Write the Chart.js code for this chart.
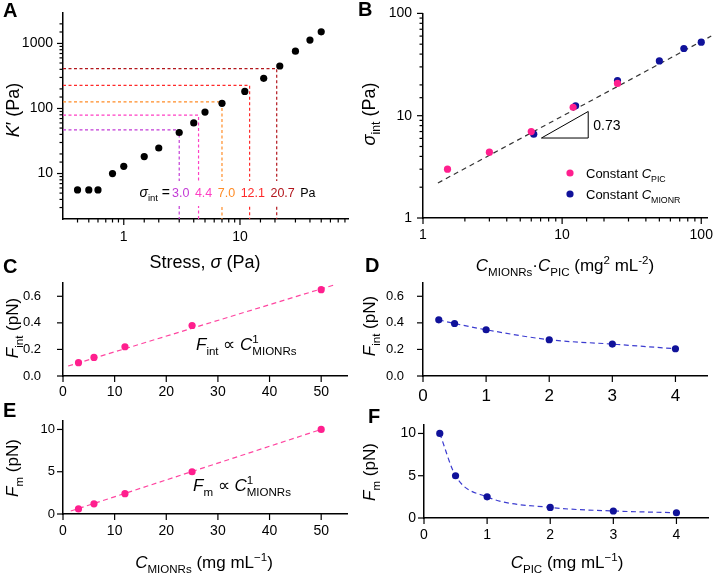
<!DOCTYPE html>
<html>
<head>
<meta charset="utf-8">
<script src="https://cdn.jsdelivr.net/npm/chart.js@4.4.0/dist/chart.umd.min.js"></script>
<style>
  body { margin: 0; background: #fff; }
  #wrap { position: relative; width: 715px; height: 575px; }
  canvas { position: absolute; left: 0; top: 0; }
</style>
</head>
<body>
<div id="wrap">
  <canvas id="pA" width="715" height="575"></canvas>
  <canvas id="pB" width="715" height="575"></canvas>
  <canvas id="pC" width="715" height="575"></canvas>
  <canvas id="pD" width="715" height="575"></canvas>
  <canvas id="pE" width="715" height="575"></canvas>
  <canvas id="pF" width="715" height="575"></canvas>
</div>
<script>
// ---- data ----
// A: K' vs stress
const stressA = [0.4, 0.5, 0.6, 0.8, 1, 1.5, 2, 3, 4, 5, 7, 11, 16, 22, 30, 40, 50];
const modulusA = [5.6, 5.6, 5.6, 10, 12.9, 18.2, 24.7, 42.7, 60, 88, 120, 183, 291, 450, 760, 1125, 1510];
const sigmaInt = [3.0, 4.4, 7.0, 12.1, 20.7];
const sigmaK = [47, 79, 126, 226, 411];

// B: sigma_int vs C_MIONRs*C_PIC
const productPIC = [1.5, 3, 6, 12, 25];
const sigmaPIC = [3.0, 4.4, 7.0, 12.1, 20.7];
const productMIONR = [6.25, 12.5, 25, 50, 75, 100];
const sigmaMIONR = [6.6, 12.5, 22, 34.3, 45.4, 52.3];
const fitBx = [1.28, 118];
const fitBy = [2.2, 60];
const triX = [7.1, 15.4, 15.4, 7.1];
const triY = [6.05, 6.05, 11.0, 6.05];

// C / E: forces vs C_MIONRs
const cMionrs = [3, 6, 12, 25, 50];
const fIntC = [0.1, 0.14, 0.22, 0.38, 0.65];
const fitCx = [1, 52.5];
const fitCy = [0.075, 0.685];
const fmE = [0.6, 1.2, 2.4, 5.0, 10.0];
const fitEx = [1.5, 50];
const fitEy = [0.35, 10];

// D / F: forces vs C_PIC
const cPic = [0.25, 0.5, 1, 2, 3, 4];
const fIntD = [0.423, 0.395, 0.348, 0.273, 0.24, 0.205];
const fmF = [10, 5, 2.5, 1.25, 0.83, 0.62];

// ---- styles ----
const FONT = '"Liberation Sans", Arial, sans-serif';
const W = 715, H = 575, YW = 45, XH = 30;
const PINK = '#ff1f8e', PINK_LINE = '#ff45a0';
const BLUE = '#10129a', BLUE_LINE = '#3c3cd0';
const sigmaColors = ['#c23bd6', '#ff3fc4', '#ff8c26', '#ff2a2a', '#b2161c'];

const pts = (xs, ys) => xs.map((x, i) => ({ x, y: ys[i] }));

// draw text with italic / sub / sup pieces
function drawRich(ctx, parts, x, y, size, align) {
  const items = parts.map(p => {
    const fs = (p.sub || p.sup) ? size * 0.68 : size;
    const font = (p.i ? 'italic ' : '') + (p.b ? 'bold ' : '') + fs + 'px ' + FONT;
    ctx.font = font;
    return { p, font, w: ctx.measureText(p.t).width };
  });
  let total = 0;
  items.forEach(it => { if (!it.p.stack) total += it.w; });
  let cx = align === 'center' ? x - total / 2 : align === 'right' ? x - total : x;
  ctx.textBaseline = 'alphabetic';
  ctx.textAlign = 'left';
  items.forEach(it => {
    ctx.font = it.font;
    ctx.fillStyle = it.p.c || '#000';
    const dy = it.p.sub ? size * 0.28 : it.p.sup ? -size * 0.42 : 0;
    ctx.fillText(it.p.t, cx, y + dy);
    if (!it.p.stack) cx += it.w;
  });
  return total;
}

function drawRotated(ctx, parts, x, y, size) {
  ctx.save();
  ctx.translate(x, y);
  ctx.rotate(-Math.PI / 2);
  drawRich(ctx, parts, 0, 0, size, 'center');
  ctx.restore();
}

// tick marks: long for major, short for log minor
const tickMarks = {
  id: 'tickMarks',
  afterDraw(chart) {
    const ctx = chart.ctx;
    ctx.save();
    ctx.strokeStyle = '#000';
    ctx.lineWidth = 1.2;
    Object.values(chart.scales).forEach(s => {
      const isLog = s.type === 'logarithmic';
      s.ticks.forEach(t => {
        const v = t.value;
        if (v < s.min * 0.9999 || v > s.max * 1.0001) return;
        const major = !isLog || t.major;
        if (!major && (v === s.min || v === s.max)) return;
        const len = major ? 6 : 3.5;
        const p = s.getPixelForValue(v);
        ctx.beginPath();
        if (s.isHorizontal()) { ctx.moveTo(p, s.top); ctx.lineTo(p, s.top + len); }
        else { ctx.moveTo(s.right, p); ctx.lineTo(s.right - len, p); }
        ctx.stroke();
      });
    });
    ctx.restore();
  }
};

const pow10 = v => {
  const l = Math.log10(v);
  return Math.abs(l - Math.round(l)) < 1e-9 ? String(v) : '';
};

function axis(type, min, max, o) {
  return {
    type, min, max,
    border: { color: '#000', width: 1.5 },
    grid: { drawOnChartArea: false, drawTicks: true, tickLength: 6, tickColor: 'rgba(0,0,0,0)' },
    ticks: {
      color: '#000',
      font: { family: FONT, size: o.size || 13 },
      padding: o.pad == null ? 3 : o.pad,
      autoSkip: false, maxRotation: 0, includeBounds: false,
      stepSize: o.step,
      callback: o.fmt || (type === 'logarithmic' ? pow10 : (v => String(v)))
    },
    afterFit: o.fit
  };
}

function panel(id, area, xAxis, yAxis, datasets, draw) {
  xAxis.afterFit = s => { s.height = XH; };
  yAxis.afterFit = s => { s.width = YW; };
  return new Chart(document.getElementById(id), {
    type: 'scatter',
    data: { datasets },
    options: {
      responsive: false,
      animation: false,
      events: [],
      layout: { padding: { left: area.l - YW, top: area.t, right: W - area.r, bottom: H - area.b - XH } },
      plugins: { legend: { display: false }, tooltip: { enabled: false } },
      scales: { x: xAxis, y: yAxis }
    },
    plugins: [tickMarks, { id: 'txt', afterDraw: c => draw(c, c.ctx) }]
  });
}

const dots = (data, color) => ({ data, showLine: false, pointRadius: 3.6, pointBackgroundColor: color, pointBorderWidth: 0 });
const dashed = (data, color, dash, extra) => Object.assign({
  data, showLine: true, pointRadius: 0, borderColor: color, borderWidth: 1.2, borderDash: dash
}, extra || {});

function letter(ctx, t, x, y) {
  drawRich(ctx, [{ t, b: 1 }], x, y, 20, 'left');
}

// ---- A ----
const xMinA = 0.3, yMinA = 2;
panel('pA', { l: 63, t: 10, r: 348, b: 219 },
  axis('logarithmic', xMinA, 85, { size: 14, pad: 4 }),
  axis('logarithmic', yMinA, 3000, { size: 14, pad: 4 }),
  [dots(pts(stressA, modulusA), '#000')].concat(sigmaInt.map((s, i) =>
    dashed([{ x: xMinA, y: sigmaK[i] }, { x: s, y: sigmaK[i] }, { x: s, y: yMinA }], sigmaColors[i], [3, 2.5]))),
  (c, ctx) => {
    // gap in dashed lines behind the label row
    ctx.fillStyle = '#fff';
    ctx.fillRect(136, 181, 170, 25);
    const base = 197;
    let x = 172;
    drawRich(ctx, [{ t: 'σ', i: 1 }, { t: 'int', sub: 1 }, { t: ' =' }], x - 2, base, 14, 'right');
    sigmaInt.forEach((s, i) => {
      x += drawRich(ctx, [{ t: s.toFixed(1), c: sigmaColors[i] }], x, base, 12.5, 'left') + 5.5;
    });
    drawRich(ctx, [{ t: 'Pa' }], x, base, 12.5, 'left');
    drawRotated(ctx, [{ t: 'K', i: 1 }, { t: '′ (Pa)' }], 19, 110, 18);
    drawRich(ctx, [{ t: 'Stress, ' }, { t: 'σ', i: 1 }, { t: ' (Pa)' }], 205, 268, 18, 'center');
    letter(ctx, 'A', 3, 17);
  });

// ---- B ----
panel('pB', { l: 423, t: 10, r: 707, b: 218 },
  axis('logarithmic', 1, 110, { size: 14, pad: 3 }),
  axis('logarithmic', 1, 100, { size: 14, pad: 5 }),
  [
    dots(pts(productPIC, sigmaPIC), PINK),
    dots(pts(productMIONR, sigmaMIONR), BLUE),
    dashed(pts(fitBx, fitBy), '#333', [5, 4], { clip: false }),
    dashed(pts(triX, triY), '#000', [], { borderWidth: 1 })
  ],
  (c, ctx) => {
    const xs = c.scales.x, ys = c.scales.y;
    const tx = xs.getPixelForValue(triX[1]) + 5;
    const ty = (ys.getPixelForValue(triY[0]) + ys.getPixelForValue(triY[2])) / 2 + 5;
    drawRich(ctx, [{ t: '0.73' }], tx, ty, 14, 'left');
    // legend
    const lx = 570, ly = 173, gap = 21;
    [[PINK, 'PIC'], [BLUE, 'MIONR']].forEach(([col, sub], i) => {
      ctx.fillStyle = col;
      ctx.beginPath();
      ctx.arc(lx, ly + i * gap, 3.6, 0, Math.PI * 2);
      ctx.fill();
      drawRich(ctx, [{ t: 'Constant ' }, { t: 'C', i: 1 }, { t: sub, sub: 1 }], lx + 16, ly + i * gap + 5, 13, 'left');
    });
    drawRotated(ctx, [{ t: 'σ', i: 1 }, { t: 'int', sub: 1 }, { t: ' (Pa)' }], 375, 114, 18);
    drawRich(ctx, [{ t: 'C', i: 1 }, { t: 'MIONRs', sub: 1 }, { t: '·' }, { t: 'C', i: 1 }, { t: 'PIC', sub: 1 },
      { t: ' (mg' }, { t: '2', sup: 1 }, { t: ' mL' }, { t: '-2', sup: 1 }, { t: ')' }], 565, 271, 17, 'center');
    letter(ctx, 'B', 358, 16);
  });

// ---- C ----
panel('pC', { l: 63, t: 283, r: 347, b: 376 },
  axis('linear', 0, 55, { size: 14, pad: 2, step: 10 }),
  axis('linear', 0, 0.7, { size: 13, pad: 16, step: 0.2, fmt: v => v.toFixed(1) }),
  [dots(pts(cMionrs, fIntC), PINK), dashed(pts(fitCx, fitCy), PINK_LINE, [5, 3.5])],
  (c, ctx) => {
    drawRich(ctx, [{ t: 'F', i: 1 }, { t: 'int', sub: 1 }, { t: ' ∝ ' }, { t: 'C', i: 1 },
      { t: '1', sup: 1, stack: 1 }, { t: 'MIONRs', sub: 1 }], 196, 350, 17, 'left');
    drawRotated(ctx, [{ t: 'F', i: 1 }, { t: 'int', sub: 1 }, { t: ' (pN)' }], 18, 328, 17);
    letter(ctx, 'C', 3, 273);
  });

// ---- D ----
panel('pD', { l: 423, t: 283, r: 707, b: 376 },
  axis('linear', 0, 4.5, { size: 17, pad: 4, step: 1 }),
  axis('linear', 0, 0.7, { size: 13, pad: 13, step: 0.2, fmt: v => v.toFixed(1) }),
  [dots(pts(cPic, fIntD), BLUE), dashed(pts(cPic, fIntD), BLUE_LINE, [5, 3.5], { cubicInterpolationMode: 'monotone' })],
  (c, ctx) => {
    drawRotated(ctx, [{ t: 'F', i: 1 }, { t: 'int', sub: 1 }, { t: ' (pN)' }], 375, 326, 17);
    letter(ctx, 'D', 365, 272);
  });

// ---- E ----
panel('pE', { l: 63, t: 421, r: 347, b: 514 },
  axis('linear', 0, 55, { size: 14, pad: 3, step: 10 }),
  axis('linear', 0, 11, { size: 13, pad: 2, step: 5 }),
  [dots(pts(cMionrs, fmE), PINK), dashed(pts(fitEx, fitEy), PINK_LINE, [5, 3.5])],
  (c, ctx) => {
    drawRich(ctx, [{ t: 'F', i: 1 }, { t: 'm', sub: 1 }, { t: ' ∝ ' }, { t: 'C', i: 1 },
      { t: '1', sup: 1, stack: 1 }, { t: 'MIONRs', sub: 1 }], 193, 491, 17, 'left');
    drawRotated(ctx, [{ t: 'F', i: 1 }, { t: 'm', sub: 1 }, { t: ' (pN)' }], 18, 468, 17);
    drawRich(ctx, [{ t: 'C', i: 1 }, { t: 'MIONRs', sub: 1 }, { t: ' (mg mL' }, { t: '−1', sup: 1 }, { t: ')' }], 204, 568, 17, 'center');
    letter(ctx, 'E', 3, 417);
  });

// ---- F ----
panel('pF', { l: 424, t: 425, r: 708, b: 518 },
  axis('linear', 0, 4.5, { size: 14, pad: 3, step: 1 }),
  axis('linear', 0, 11, { size: 14, pad: 2, step: 5 }),
  [dots(pts(cPic, fmF), BLUE), dashed(pts(cPic, fmF), BLUE_LINE, [5, 3.5], { cubicInterpolationMode: 'monotone' })],
  (c, ctx) => {
    drawRotated(ctx, [{ t: 'F', i: 1 }, { t: 'm', sub: 1 }, { t: ' (pN)' }], 375, 472, 17);
    drawRich(ctx, [{ t: 'C', i: 1 }, { t: 'PIC', sub: 1 }, { t: ' (mg mL' }, { t: '−1', sup: 1 }, { t: ')' }], 567, 568, 17, 'center');
    letter(ctx, 'F', 368, 423);
  });
</script>
</body>
</html>
